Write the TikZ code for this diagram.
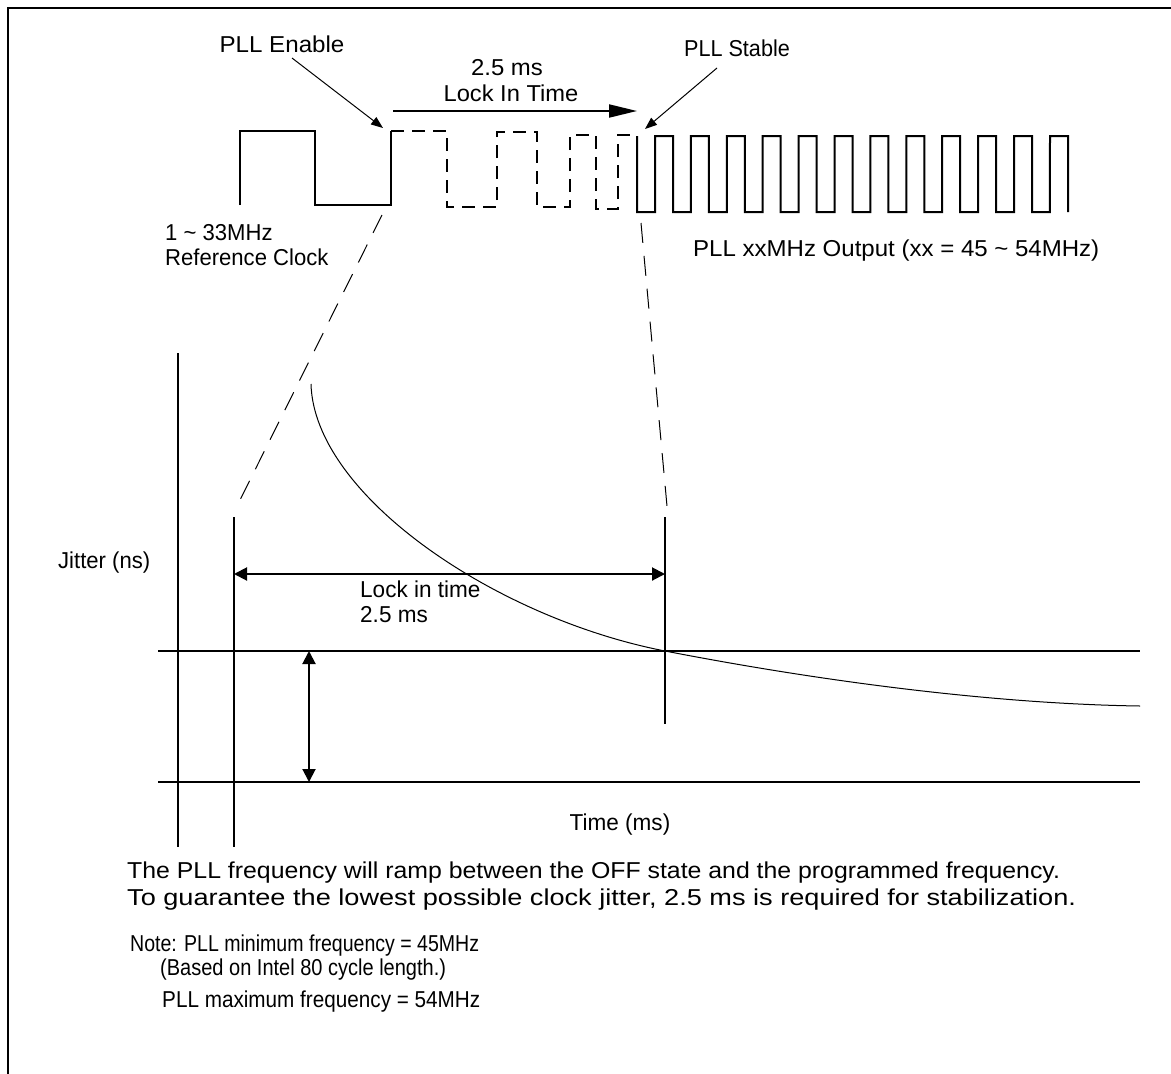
\documentclass[tikz,border=0pt]{standalone}
\usepackage{fontspec}
\setmainfont{Liberation Sans}
\usetikzlibrary{arrows.meta}
\begin{document}
\begin{tikzpicture}[x=1pt,y=-1pt,
  lbl/.style={inner sep=0pt,font=\fontsize{23}{26}\selectfont,text height=16.5pt,text depth=0pt},
  note/.style={inner sep=0pt,font=\fontsize{23}{26}\selectfont,text height=16.5pt,text depth=0pt},
  wave/.style={line width=2pt,line join=miter},
  dwave/.style={line width=2pt,dash pattern=on 13pt off 8pt},
  proj/.style={line width=1pt,dash pattern=on 20pt off 13pt},
  axis/.style={line width=2pt},
  pointer/.style={line width=1pt,-{Triangle[length=12pt,width=9pt]}},
  dim/.style={line width=2pt,{Triangle[length=13pt,width=13pt]}-{Triangle[length=13pt,width=13pt]}}
]
\useasboundingbox (0,0) rectangle (1171,1074);
% frame
\draw[line width=1.5pt] (8,1074) -- (8,8) -- (1171,8);

% reference clock
\draw[wave] (240,205) -- (240,131) -- (315,131) -- (315,205) -- (391,205) -- (391,131);
% ramping (dashed) part
\draw[dwave] (391,131) -- (447,131) -- (447,207) -- (497,207) -- (497,132) -- (537,132) -- (537,207)
  -- (570,207) -- (570,135) -- (596,135) -- (596,209) -- (618,209) -- (618,135) -- (637,135);
% stable output
\draw[wave] (637,136) -- (637,212) -- (655,212)
  \foreach \k in {0,...,10} { -- ({655+35.9*\k},136) -- ({673+35.9*\k},136) -- ({673+35.9*\k},212) -- ({655+35.9*(\k+1)},212) }
  -- (1050,136) -- (1068,136) -- (1068,212);

% labels top
\node[lbl] (en) at (282,44) {\scalebox{1.05}[1]{PLL Enable}};
\node[lbl] (lt1) at (507,67) {\scalebox{1.04}[1]{2.5 ms}};
\node[lbl] (lt2) at (511,93) {\scalebox{1.03}[1]{Lock In Time}};
\node[lbl] (st) at (737,48) {\scalebox{0.94}[1]{PLL Stable}};
\node[lbl,anchor=west] (rc1) at (165,232) {\scalebox{0.96}[1]{1 \char`~{} 33MHz}};
\node[lbl,anchor=west] (rc2) at (165,257) {\scalebox{0.96}[1]{Reference Clock}};
\node[lbl,anchor=west] (out) at (693,248) {\scalebox{1.045}[1]{PLL xxMHz Output (xx = 45 \char`~{} 54MHz)}};

\coordinate (enTip) at (383,128);
\coordinate (enTail) at (292,58);
\coordinate (stTip) at (645,129);
\coordinate (stTail) at (717,68);
\coordinate (ltA) at (393,111);
\coordinate (ltB) at (637,111);
\draw[pointer] (enTail) -- (enTip);
\draw[pointer] (stTail) -- (stTip);
\draw[line width=2pt,-{Triangle[length=28pt,width=13pt]}] (ltA) -- (ltB);

% projection lines
\coordinate (pL1) at (382,215);
\coordinate (pL2) at (239,502);
\coordinate (pR1) at (641,223);
\coordinate (pR2) at (668,517);
\draw[proj] (pL1) -- (pL2);
\draw[proj] (pR1) -- (pR2);

% jitter graph
\coordinate (ax1t) at (178,353);
\coordinate (ax1b) at (178,847);
\coordinate (ax2t) at (234,517);
\coordinate (ax2b) at (234,847);
\coordinate (ax3t) at (665,517);
\coordinate (ax3b) at (665,724);
\coordinate (h1l) at (158,651);
\coordinate (h1r) at (1140,651);
\coordinate (h2l) at (158,782);
\coordinate (h2r) at (1140,782);
\draw[axis] (ax1t) -- (ax1b);
\draw[axis] (ax2t) -- (ax2b);
\draw[axis] (ax3t) -- (ax3b);
\draw[axis] (h1l) -- (h1r);
\draw[axis] (h2l) -- (h2r);
\draw[line width=1pt] (311,384) .. controls (314,495) and (495,618) .. (665,651)
  .. controls (830,683) and (1000,704) .. (1140,706);
\coordinate (dA) at (234,574);
\coordinate (dB) at (665,574);
\draw[dim] (dA) -- (dB);
\coordinate (vA) at (309,651);
\coordinate (vB) at (309,782);
\draw[dim] (vA) -- (vB);

\node[lbl,anchor=west] (jit) at (58,560) {\scalebox{0.96}[1]{Jitter (ns)}};
\node[lbl,anchor=west] (lk1) at (360,589) {\scalebox{0.98}[1]{Lock in time}};
\node[lbl,anchor=west] (lk2) at (360,614) {\scalebox{0.98}[1]{2.5 ms}};
\node[lbl] (tm) at (620,822) {\scalebox{0.98}[1]{Time (ms)}};

% notes
\node[note,anchor=west] (n1) at (127,870) {\scalebox{1.08}[1]{The PLL frequency will ramp between the OFF state and the programmed frequency.}};
\node[note,anchor=west] (n2) at (127,897) {\scalebox{1.18}[1]{To guarantee the lowest possible clock jitter, 2.5 ms is required for stabilization.}};
\node[note,anchor=west] (n3) at (130,943) {\scalebox{0.85}[1]{Note: PLL minimum frequency = 45MHz}};
\node[note,anchor=west] (n4) at (160,967) {\scalebox{0.87}[1]{(Based on Intel 80 cycle length.)}};
\node[note,anchor=west] (n5) at (162,999) {\scalebox{0.9}[1]{PLL maximum frequency = 54MHz}};
\end{tikzpicture}
\end{document}
